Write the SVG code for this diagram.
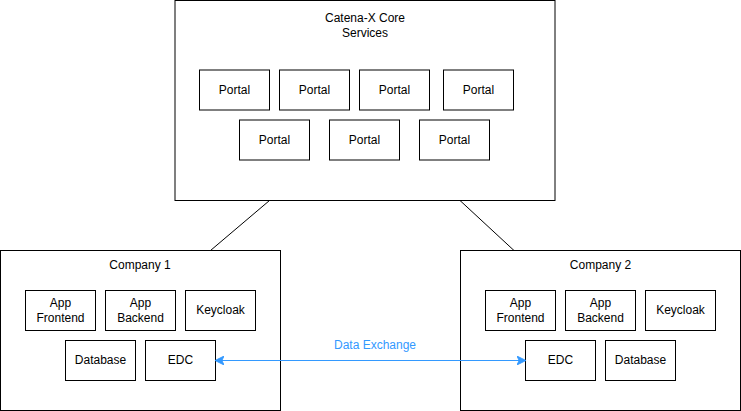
<svg xmlns="http://www.w3.org/2000/svg" width="741" height="411" viewBox="0 0 741 411">
<defs>
<style>
.box{fill:#fff;stroke:#000;stroke-width:1}
.t{font-family:"Liberation Sans",Arial,sans-serif;font-size:12px;fill:#000;text-anchor:middle;dominant-baseline:central}
.lbl{font-family:"Liberation Sans",Arial,sans-serif;font-size:12px;fill:#3399FF;text-anchor:middle;dominant-baseline:central}
.ln{stroke:#000;stroke-width:1;fill:none}
.ar{stroke:#3399FF;stroke-width:1;fill:none}
</style>
<marker id="ah" viewBox="0 0 10 10" refX="9" refY="5" markerWidth="9" markerHeight="9" markerUnits="userSpaceOnUse" orient="auto-start-reverse">
<path d="M0,0 L10,5 L0,10 L2.5,5 Z" fill="#3399FF" stroke="#3399FF"/>
</marker>
</defs>
<rect width="741" height="411" fill="#fff"/>
<g id="core">
<rect class="box" x="175" y="0.5" width="380" height="200"/>
<text class="t" x="365" y="18">Catena-X Core</text>
<text class="t" x="365" y="33">Services</text>
</g>
<g id="portal1"><rect class="box" x="199.5" y="70" width="70" height="40"/><text class="t" x="234.5" y="90">Portal</text></g>
<g id="portal2"><rect class="box" x="279.5" y="70" width="70" height="40"/><text class="t" x="314.5" y="90">Portal</text></g>
<g id="portal3"><rect class="box" x="359.5" y="70" width="70" height="40"/><text class="t" x="394.5" y="90">Portal</text></g>
<g id="portal4"><rect class="box" x="443.5" y="70" width="70" height="40"/><text class="t" x="478.5" y="90">Portal</text></g>
<g id="portal5"><rect class="box" x="239.5" y="120" width="70" height="40"/><text class="t" x="274.5" y="140">Portal</text></g>
<g id="portal6"><rect class="box" x="329.5" y="120" width="70" height="40"/><text class="t" x="364.5" y="140">Portal</text></g>
<g id="portal7"><rect class="box" x="419.5" y="120" width="70" height="40"/><text class="t" x="454.5" y="140">Portal</text></g>

<g id="company1">
<rect class="box" x="0.5" y="250.5" width="280" height="160"/>
<text class="t" x="140" y="265">Company 1</text>
</g>
<g id="c1-frontend"><rect class="box" x="25.5" y="290.5" width="70" height="40"/><text class="t" x="60.5" y="303">App</text><text class="t" x="60.5" y="318">Frontend</text></g>
<g id="c1-backend"><rect class="box" x="105.5" y="290.5" width="70" height="40"/><text class="t" x="140.5" y="303">App</text><text class="t" x="140.5" y="318">Backend</text></g>
<g id="c1-keycloak"><rect class="box" x="185.5" y="290.5" width="70" height="40"/><text class="t" x="220.5" y="310">Keycloak</text></g>
<g id="c1-database"><rect class="box" x="65.5" y="340.5" width="70" height="40"/><text class="t" x="100.5" y="360">Database</text></g>
<g id="c1-edc"><rect class="box" x="145.5" y="340.5" width="70" height="40"/><text class="t" x="180.5" y="360">EDC</text></g>

<g id="company2">
<rect class="box" x="460.5" y="250.5" width="280" height="160"/>
<text class="t" x="600.5" y="265">Company 2</text>
</g>
<g id="c2-frontend"><rect class="box" x="485.5" y="290.5" width="70" height="40"/><text class="t" x="520.5" y="303">App</text><text class="t" x="520.5" y="318">Frontend</text></g>
<g id="c2-backend"><rect class="box" x="565.5" y="290.5" width="70" height="40"/><text class="t" x="600.5" y="303">App</text><text class="t" x="600.5" y="318">Backend</text></g>
<g id="c2-keycloak"><rect class="box" x="645.5" y="290.5" width="70" height="40"/><text class="t" x="680.5" y="310">Keycloak</text></g>
<g id="c2-edc"><rect class="box" x="525.5" y="340.5" width="70" height="40"/><text class="t" x="560.5" y="360">EDC</text></g>
<g id="c2-database"><rect class="box" x="605.5" y="340.5" width="70" height="40"/><text class="t" x="640.5" y="360">Database</text></g>

<g id="connectors">
<line class="ln" x1="269.5" y1="200.5" x2="210.5" y2="250.5"/>
<line class="ln" x1="460" y1="200.5" x2="514" y2="250.5"/>
<line class="ar" x1="216" y1="360.5" x2="525" y2="360.5" marker-start="url(#ah)" marker-end="url(#ah)"/>
<text class="lbl" x="375" y="345">Data Exchange</text>
</g>
</svg>
